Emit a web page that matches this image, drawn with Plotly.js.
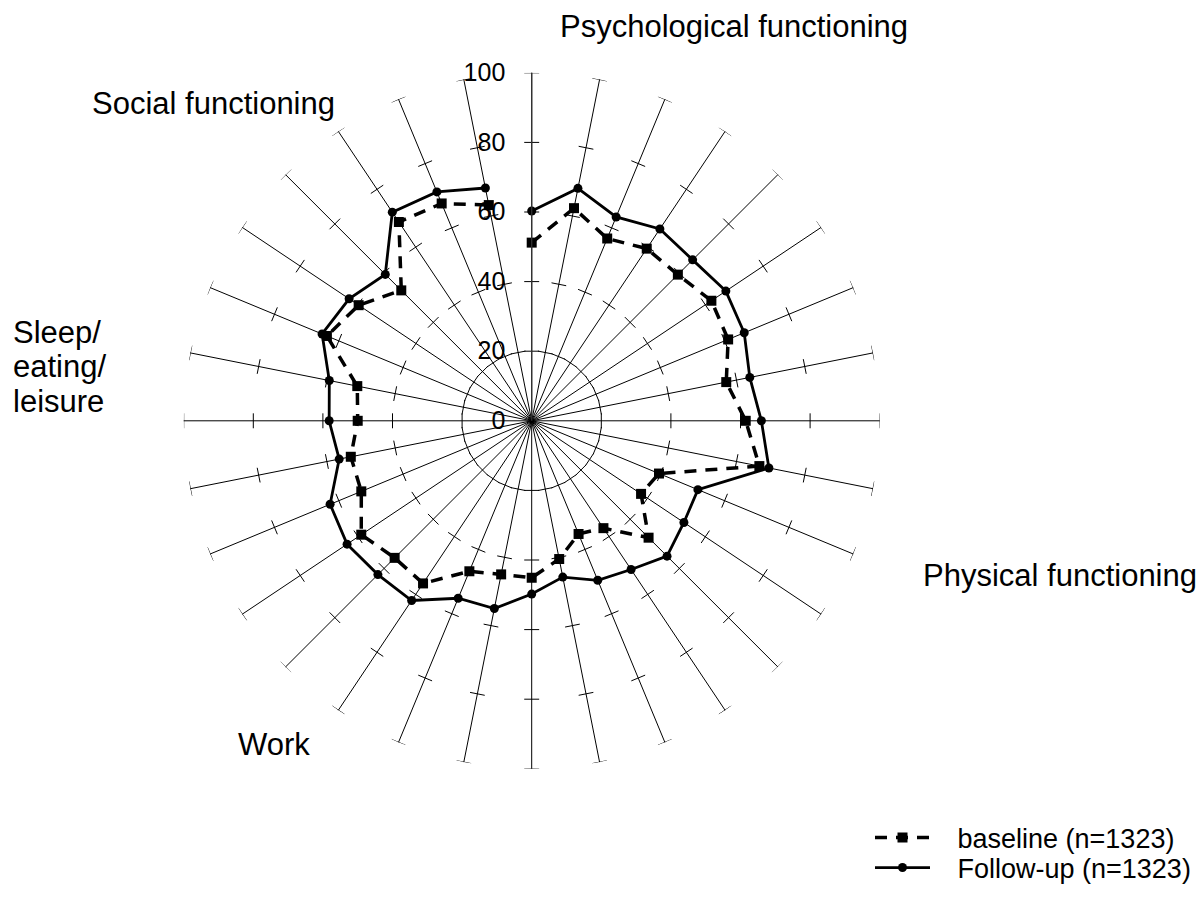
<!DOCTYPE html>
<html><head><meta charset="utf-8">
<script src="https://cdn.plot.ly/plotly-3.0.1.min.js"></script>
<style>html,body{margin:0;padding:0;background:#fff}#chart{width:1204px;height:909px}</style>
</head><body><div id="chart"></div>
<script>
// 32 questionnaire items, item 1 at the top, going clockwise
const items = [1,2,3,4,5,6,7,8,9,10,11,12,13,14,15,16,17,18,19,20,21,22,23,24,25,26,27,28,29,30,31,32];
const baseline = [51.2, 62.3, 56.7, 59.5, 59.4, 62.1, 61.1, 57.0, 61.5, 66.7, 39.6, 37.8, 47.5, 37.1, 35.2, 40.5,
                  45.1, 45.0, 46.8, 56.2, 55.7, 58.9, 53.0, 53.0, 50.0, 51.1, 63.7, 59.8, 53.0, 68.7, 67.6, 63.2];
const followUp = [60.3, 68.1, 63.4, 66.3, 65.4, 67.1, 66.1, 63.9, 66.0, 69.5, 51.7, 52.6, 55.0, 51.4, 49.6, 45.8,
                  49.8, 55.0, 55.2, 62.1, 62.5, 63.8, 62.7, 56.4, 58.2, 59.3, 65.2, 63.1, 59.5, 72.1, 71.2, 68.2];
const radialTicks = [0, 20, 40, 60, 80, 100];
const seriesNames = ["baseline (n=1323)", "Follow-up (n=1323)"];
const domainLabels = ["Psychological functioning", "Physical functioning", "Work", "Sleep/", "eating/", "leisure", "Social functioning"];

const theta = items.map(i => (i - 1) * 360 / items.length);

// small perpendicular tick marks on every spoke
const tickR = [], tickT = [];
const half = 2.15;
theta.forEach(a => {
  radialTicks.filter(t => t > 0).forEach(t => {
    const rr = Math.hypot(t, half);
    const d = Math.atan(half / t) * 180 / Math.PI;
    tickR.push(rr, rr, null);
    tickT.push(a - d, a + d, null);
  });
});

const FONT = "Liberation Sans, Arial, sans-serif";
const nb = "\u00a0\u00a0\u00a0";

const traces = [
  {type: 'scatterpolar', mode: 'lines', r: tickR, theta: tickT, showlegend: false, hoverinfo: 'skip',
   cliponaxis: false, line: {color: '#000', width: 1}},
  {type: 'scatterpolar', mode: 'lines+markers', name: nb + seriesNames[0], r: baseline, theta: theta,
   line: {color: '#000', width: 3.5, dash: '12px,9px'}, marker: {symbol: 'square', size: 10, color: '#000'},
   legend: 'legend'},
  {type: 'scatterpolar', mode: 'lines+markers', name: nb + seriesNames[1], r: followUp, theta: theta,
   line: {color: '#000', width: 2.8}, marker: {symbol: 'circle', size: 9, color: '#000'},
   legend: 'legend2'}
];

function ann(text, px, py) {
  return {text: text, xref: 'paper', yref: 'paper', x: px / 1204, y: 1 - py / 909,
          xanchor: 'left', yanchor: 'middle', showarrow: false, font: {family: FONT, size: 31, color: '#000'}};
}

const layout = {
  width: 1204, height: 909,
  margin: {l: 0, r: 0, t: 0, b: 0},
  paper_bgcolor: '#fff',
  font: {family: FONT, color: '#000'},
  polar: {
    domain: {x: [183.7 / 1204, 879.7 / 1204], y: [140.2 / 909, 836.2 / 909]},
    bgcolor: 'rgba(0,0,0,0)',
    angularaxis: {
      rotation: 90, direction: 'clockwise', thetaunit: 'degrees',
      tickmode: 'array', tickvals: theta, showticklabels: false, ticks: '',
      showgrid: true, gridcolor: '#000', gridwidth: 1, showline: false
    },
    radialaxis: {
      range: [0, 100], angle: 90, side: 'counterclockwise',
      tickmode: 'array', tickvals: radialTicks, ticktext: radialTicks.map(String),
      showgrid: false, showline: true, linecolor: '#333', linewidth: 1.3,
      ticks: 'outside', ticklen: 17, tickcolor: 'rgba(0,0,0,0)',
      tickfont: {family: FONT, size: 25, color: '#000'}, tickangle: 90
    }
  },
  legend: {x: 870 / 1204, y: 1 - 838 / 909, xanchor: 'left', yanchor: 'middle', itemwidth: 55,
           bgcolor: 'rgba(0,0,0,0)', font: {family: FONT, size: 27, color: '#000'}},
  legend2: {x: 870 / 1204, y: 1 - 868 / 909, xanchor: 'left', yanchor: 'middle', itemwidth: 55,
           bgcolor: 'rgba(0,0,0,0)', font: {family: FONT, size: 27, color: '#000'}},
  showlegend: true,
  annotations: [
    ann(domainLabels[0], 558, 26),
    ann(domainLabels[1], 921, 575),
    ann(domainLabels[2], 236, 744),
    ann(domainLabels[3], 11, 332),
    ann(domainLabels[4], 11, 366),
    ann(domainLabels[5], 11, 401),
    ann(domainLabels[6], 90, 104)
  ]
};

Plotly.newPlot('chart', traces, layout, {staticPlot: true, displayModeBar: false});
</script>
</body></html>
